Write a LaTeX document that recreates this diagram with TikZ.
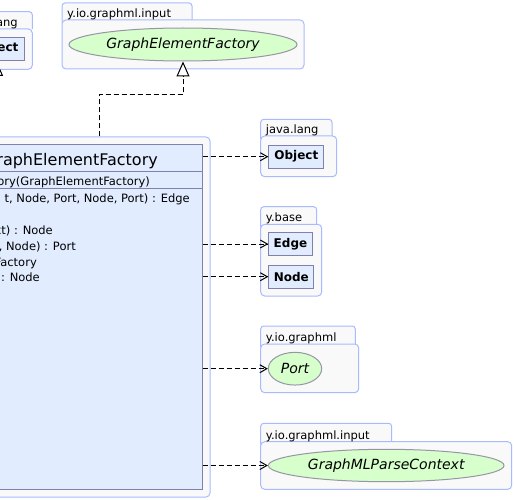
\documentclass[tikz,border=0pt]{standalone}
\usepackage{fontspec}
\setmainfont{DejaVu Sans}
\usetikzlibrary{arrows.meta}
\usetikzlibrary{shapes.geometric}

\definecolor{pkgfill}{RGB}{249,249,249}
\definecolor{pkgline}{RGB}{170,186,255}
\definecolor{clsfill}{RGB}{225,236,255}
\definecolor{clsline}{RGB}{128,128,176}
\definecolor{ifcfill}{RGB}{214,255,204}
\definecolor{ifcline}{RGB}{150,150,165}

\tikzset{
  pkgtab/.style={draw=pkgline, fill=pkgfill, line width=1pt, rounded corners=3pt},
  pkgbody/.style={draw=pkgline, fill=pkgfill, line width=1pt, rounded corners=4pt},
  pkglabel/.style={inner sep=0pt, font=\fontsize{11.5}{13}\selectfont},
  cls/.style={draw=clsline, fill=clsfill, line width=1pt, inner sep=0pt,
    minimum height=23.3pt, font=\fontsize{12}{14}\selectfont\bfseries},
  ifc/.style={ellipse, draw=ifcline, fill=ifcfill, line width=1pt, inner sep=0pt,
    font=\fontsize{14}{16}\selectfont\itshape},
  member/.style={inner sep=0pt, anchor=base east, font=\fontsize{11.5}{13}\selectfont},
  dep/.style={draw, black, line width=1pt, dash pattern=on 5pt off 3pt,
    -{Straight Barb[length=7pt, width=8pt]}},
  realize/.style={draw, black, line width=1pt, dash pattern=on 5pt off 3pt,
    -{Triangle[length=15pt, width=13pt, fill=white]}}
}

\begin{document}
\begin{tikzpicture}[x=1pt, y=-1pt]
\useasboundingbox (0,0) rectangle (514,500);

% packages: left, tab top, tab right, tab bottom, body right, body bottom
\foreach \xa/\ya/\xt/\yt/\xb/\yb/\pname/\plabel in {
    -40/11.7/32.3/29/32.3/69.3/pkgjl/java.lang,
    62/3/192/20/304/69/pkgin/y.io.graphml.input,
    260.7/119.3/332/136/336.7/176.7/pkglang/java.lang,
    260.7/206.7/316.7/224.3/321.7/296/pkgbase/y.base,
    260.7/326/355.3/344/358.7/392.7/pkggml/y.io.graphml,
    260.7/423.3/391.7/441.7/511.7/489.3/pkginput/y.io.graphml.input} {
  \draw[pkgtab] (\xa,\yt+3) -- (\xa,\ya) -- (\xt,\ya) -- (\xt,\yt);
  \draw[pkgbody] (\xa,\yt) rectangle (\xb,\yb);
  \node[pkglabel, anchor=base west] (\pname) at (\xa+5,\yt-2.5) {\plabel};
}

% classes and interfaces
\node[cls, minimum width=55pt] (objl) at (-3.5,48.7) {Object};
\node[ifc, minimum width=228pt, minimum height=33pt] (gef) at (183,44.5) {GraphElementFactory};
\node[cls, minimum width=55pt, anchor=west] (obj) at (268.3,156.7) {Object};
\node[cls, minimum width=43.4pt, anchor=west] (edge) at (268.3,244) {Edge};
\node[cls, minimum width=45pt, anchor=west] (node) at (268.3,276.7) {Node};
\node[ifc, minimum width=53.4pt, minimum height=32.7pt] (port) at (295,368.7) {Port};
\node[ifc, minimum width=235.7pt, minimum height=32.4pt] (ctx) at (386.2,465.5) {GraphMLParseContext};

% implementing class
\node[pkgbody, minimum width=330pt, minimum height=360pt] (implframe) at (45,317) {};
\node[cls, minimum width=314pt, minimum height=344pt] (impl) at (45,317) {};
\draw[clsline, line width=1pt] (impl.west |- 0,171.7) -- (impl.east |- 0,171.7);
\draw[clsline, line width=1pt] (impl.west |- 0,188.7) -- (impl.east |- 0,188.7);
\node[member, font=\fontsize{16}{18}\selectfont] (title) at (158,165) {GraphElementFactory};
\node[member] (ctor) at (150,185.5) {ory(GraphElementFactory)};
\node[member] (m1) at (190,202) {t, Node, Port, Node, Port) : Edge};
\node[member] (m2) at (53,234) {xt) : Node};
\node[member] (m3) at (76,250) {, Node) : Port};
\node[member] (m4) at (37,266) {Factory};
\node[member] (m5) at (40,281) {: Node};

% realizations
\draw[realize] (implframe.north -| 99,0) -- (99,95) -| (gef.south);
\draw[realize] (-3.5,110) -- (objl.south);

% dependencies
\draw[dep] (impl.east |- obj.west) -- (obj.west);
\draw[dep] (impl.east |- edge.west) -- (edge.west);
\draw[dep] (impl.east |- node.west) -- (node.west);
\draw[dep] (impl.east |- port.west) -- (port.west);
\draw[dep] (impl.east |- ctx.west) -- (ctx.west);
\end{tikzpicture}
\end{document}
